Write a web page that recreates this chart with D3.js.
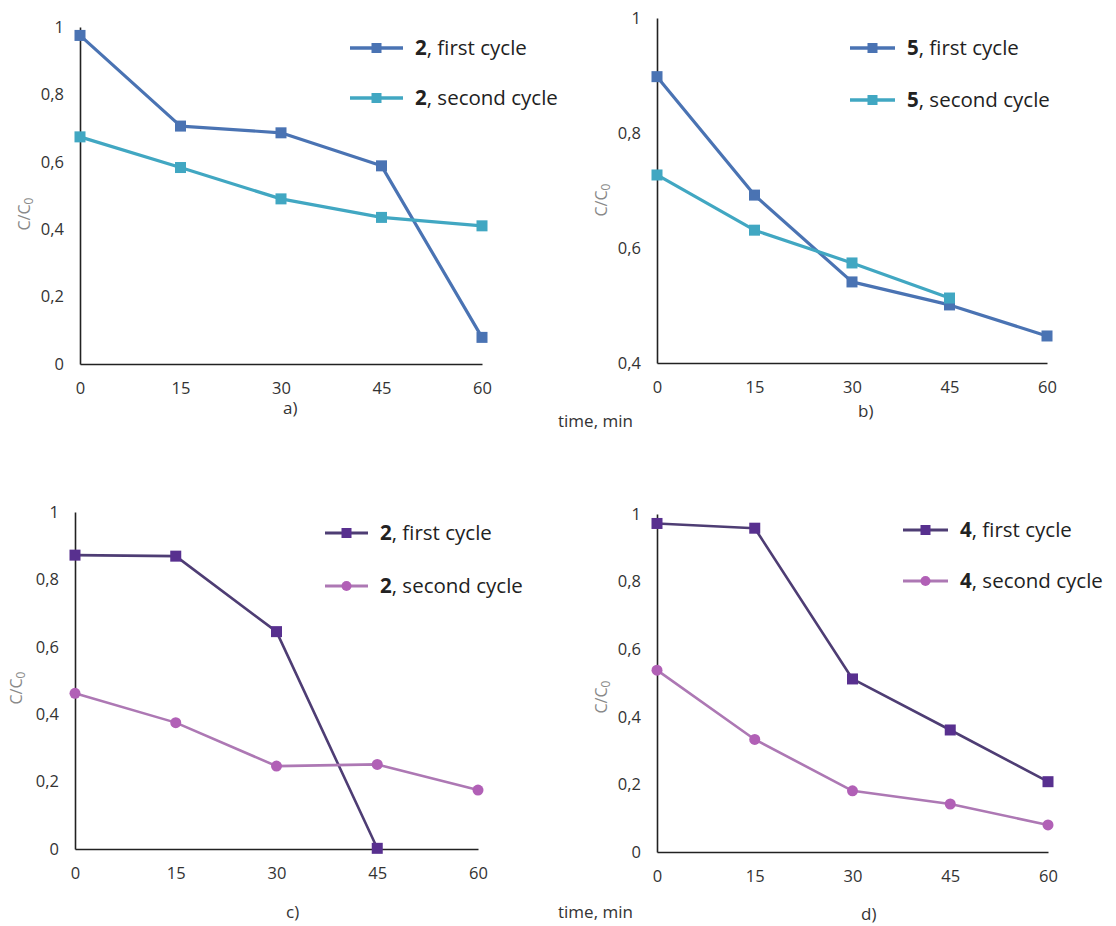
<!DOCTYPE html>
<html><head><meta charset="utf-8">
<script src="https://cdn.jsdelivr.net/npm/d3@7"></script>
<style>
html,body{margin:0;padding:0;background:#fff;}
svg{display:block;font-family:"Open Sans",Lato,sans-serif;}
</style></head>
<body>
<svg id="chart" width="1116" height="926"></svg>
<script>
const times = [0, 15, 30, 45, 60];
const xTickLabels = ["0", "15", "30", "45", "60"];
const yTicksFull = [0, 0.2, 0.4, 0.6, 0.8, 1];
const yTicksB = [0.4, 0.6, 0.8, 1];

const aFirst  = [0.975, 0.706, 0.686, 0.588, 0.079];
const aSecond = [0.674, 0.583, 0.490, 0.435, 0.410];
const bFirst  = [0.898, 0.692, 0.541, 0.501, 0.447];
const bSecond = [0.727, 0.631, 0.574, 0.513, null];
const cFirst  = [0.872, 0.869, 0.645, 0.002];
const cSecond = [0.462, 0.375, 0.246, 0.251, 0.175];
const dFirst  = [0.972, 0.958, 0.512, 0.361, 0.208];
const dSecond = [0.538, 0.333, 0.181, 0.142, 0.080];

const labelsA = ["2", "2"];
const labelsB = ["5", "5"];
const labelsC = ["2", "2"];
const labelsD = ["4", "4"];
const cycleNames = [", first cycle", ", second cycle"];
const panelNames = ["a)", "b)", "c)", "d)"];

const blueCol = ["#4a73b3", "#41a7c2"];
const purpleCol = ["#58308f", "#b160b6"];
const purpleLine = ["#4e3d74", "#ad78b4"];

const panels = [
  {name: panelNames[0], x0: 80, x1: 482, y0: 364, y1: 27, dom: [0, 1], ticks: yTicksFull,
   series: [aFirst, aSecond], labels: labelsA, cols: blueCol, lines: blueCol, shapes: ["sq", "sq"], lw: 3.2,
   leg: {lx: 350, tx: 415, ys: [48, 98]}, yl: {x: 24, y: 214}, pl: {x: 283, y: 408}},
  {name: panelNames[1], x0: 657, x1: 1047, y0: 363, y1: 18, dom: [0.4, 1], ticks: yTicksB,
   series: [bFirst, bSecond], labels: labelsB, cols: blueCol, lines: blueCol, shapes: ["sq", "sq"], lw: 3.2,
   leg: {lx: 850, tx: 907, ys: [48, 100]}, yl: {x: 601, y: 200}, pl: {x: 858, y: 411}, time: {x: 558, y: 421}},
  {name: panelNames[2], x0: 75, x1: 478, y0: 849, y1: 512, dom: [0, 1], ticks: yTicksFull,
   series: [cFirst, cSecond], labels: labelsC, cols: purpleCol, lines: purpleLine, shapes: ["sq", "ci"], lw: 2.6,
   leg: {lx: 325, tx: 380, ys: [533, 586]}, yl: {x: 16, y: 688}, pl: {x: 286, y: 912}},
  {name: panelNames[3], x0: 657, x1: 1048, y0: 852, y1: 514, dom: [0, 1], ticks: yTicksFull,
   series: [dFirst, dSecond], labels: labelsD, cols: purpleCol, lines: purpleLine, shapes: ["sq", "ci"], lw: 2.6,
   leg: {lx: 903, tx: 960, ys: [530, 581]}, yl: {x: 601, y: 697}, pl: {x: 861, y: 914}, time: {x: 558, y: 912}}
];

const svg = d3.select("#chart");
const fmt = v => String(+v.toFixed(1)).replace(".", ",");
const FONT = '"Open Sans",Lato,sans-serif';

panels.forEach(p => {
  const g = svg.append("g");
  const x = d3.scaleLinear().domain([0, 60]).range([p.x0, p.x1]);
  const y = d3.scaleLinear().domain(p.dom).range([p.y0, p.y1]);

  const xa = g.append("g").attr("transform", `translate(0,${p.y0})`)
    .call(d3.axisBottom(x).tickValues(times).tickFormat((d, i) => xTickLabels[i]).tickSize(0).tickPadding(18));
  xa.select(".domain").attr("stroke", "#222").attr("stroke-width", 1.6);
  xa.selectAll("text").attr("font-size", 16.5).attr("fill", "#333").attr("font-family", FONT);

  const ya = g.append("g").attr("transform", `translate(${p.x0},0)`)
    .call(d3.axisLeft(y).tickValues(p.ticks).tickFormat(fmt).tickSize(0).tickPadding(16));
  ya.select(".domain").attr("stroke", "#222").attr("stroke-width", 1.6);
  ya.selectAll("text").attr("font-size", 16.5).attr("fill", "#333").attr("font-family", FONT);

  p.series.forEach((vals, si) => {
    const pts = vals.map((v, i) => ({t: times[i], v})).filter(d => d.v !== null);
    const line = d3.line().x(d => x(d.t)).y(d => y(d.v));
    g.append("path").datum(pts).attr("d", line).attr("fill", "none")
      .attr("stroke", p.lines[si]).attr("stroke-width", p.lw).attr("stroke-linejoin", "round");
    if (p.shapes[si] === "sq") {
      g.selectAll(null).data(pts).enter().append("rect")
        .attr("x", d => x(d.t) - 5.5).attr("y", d => y(d.v) - 5.5)
        .attr("width", 11).attr("height", 11).attr("fill", p.cols[si]);
    } else {
      g.selectAll(null).data(pts).enter().append("circle")
        .attr("cx", d => x(d.t)).attr("cy", d => y(d.v)).attr("r", 5.5).attr("fill", p.cols[si]);
    }
    const ly = p.leg.ys[si];
    g.append("line").attr("x1", p.leg.lx).attr("x2", p.leg.tx - 12).attr("y1", ly).attr("y2", ly)
      .attr("stroke", p.lines[si]).attr("stroke-width", p.lw + 0.5);
    const mx = (p.leg.lx + p.leg.tx - 12) / 2;
    if (p.shapes[si] === "sq") {
      g.append("rect").attr("x", mx - 5).attr("y", ly - 5).attr("width", 10).attr("height", 10).attr("fill", p.cols[si]);
    } else {
      g.append("circle").attr("cx", mx).attr("cy", ly).attr("r", 5).attr("fill", p.cols[si]);
    }
    const t = g.append("text").attr("x", p.leg.tx).attr("y", ly).attr("dy", "0.35em")
      .attr("font-size", 20.5).attr("fill", "#222");
    t.append("tspan").attr("font-weight", "bold").text(p.labels[si]);
    t.append("tspan").text(cycleNames[si]);
  });

  const yl = g.append("text").attr("transform", `translate(${p.yl.x},${p.yl.y}) rotate(-90)`)
    .attr("text-anchor", "middle").attr("dy", "0.35em").attr("font-size", 16).attr("fill", "#888");
  yl.append("tspan").text("C/C");
  yl.append("tspan").attr("font-size", 12).attr("dy", "0.3em").text("0");

  g.append("text").attr("x", p.pl.x).attr("y", p.pl.y).attr("dy", "0.35em")
    .attr("font-size", 17).attr("fill", "#333").text(p.name);

  if (p.time) {
    g.append("text").attr("x", p.time.x).attr("y", p.time.y).attr("dy", "0.35em")
      .attr("font-size", 17).attr("fill", "#333").text("time, min");
  }
});
</script>
</body></html>
